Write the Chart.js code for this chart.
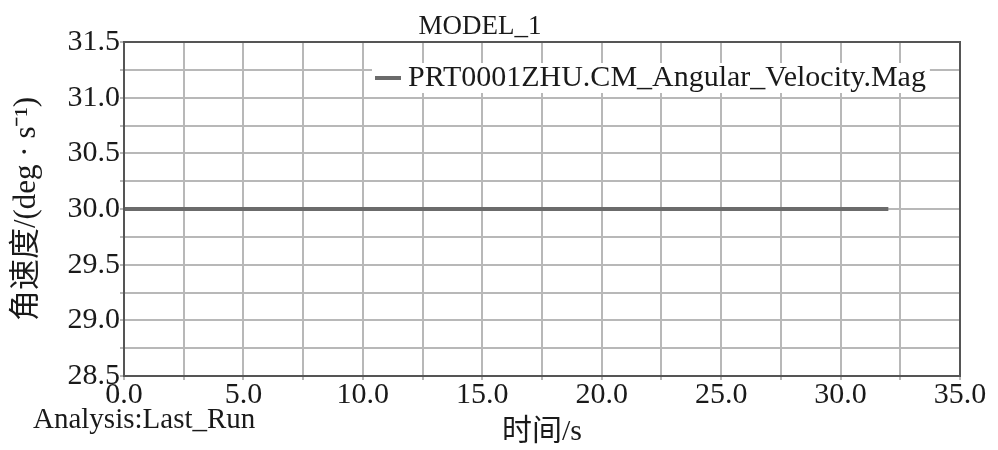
<!DOCTYPE html>
<html lang="zh">
<head>
    <meta charset="UTF-8">
    <title>MODEL_1</title>
    <script src="https://cdn.jsdelivr.net/npm/chart.js"></script>
    <style>
        html, body { margin: 0; padding: 0; background: #fff; }
        #box { width: 998px; height: 450px; }
    </style>
</head>
<body>
<div id="box"><canvas id="graf"></canvas></div>
<script>
    // данные
    const timeValues = [0.0, 32.0];
    const velocityValues = [30.0, 30.0];
    const seriesName = 'PRT0001ZHU.CM_Angular_Velocity.Mag';
    const chartTitle = 'MODEL_1';
    const analysisName = 'Analysis:Last_Run';
    const xTitle = '时间/s';
    const yTitle = '角速度/(deg · s⁻¹)';

    const serif = "'Liberation Serif', 'Noto Sans CJK SC', serif";

    // рамка, легенда и подпись внизу
    const extras = {
        id: 'extras',
        afterDraw(chart) {
            const ctx = chart.ctx;
            const a = chart.chartArea;
            ctx.save();
            ctx.strokeStyle = '#555';
            ctx.lineWidth = 2;
            ctx.strokeRect(a.left, a.top, a.right - a.left, a.bottom - a.top);

            ctx.font = '30px ' + serif;
            ctx.textBaseline = 'middle';
            const tw = ctx.measureText(seriesName).width;
            const tx = 408, ty = 78;
            ctx.fillStyle = '#fff';
            ctx.fillRect(tx - 36, ty - 15, tw + 40, 30);
            ctx.strokeStyle = '#6b6b6b';
            ctx.lineWidth = 4;
            ctx.beginPath();
            ctx.moveTo(375, ty);
            ctx.lineTo(401, ty);
            ctx.stroke();
            ctx.fillStyle = '#1a1a1a';
            ctx.textAlign = 'left';
            ctx.fillText(seriesName, tx, ty);

            ctx.font = '29px ' + serif;
            ctx.fillText(analysisName, 33, 420);
            ctx.restore();
        }
    };

    new Chart(document.getElementById('graf'), {
        type: 'line',
        data: {
            datasets: [{
                label: seriesName,
                data: timeValues.map(function(t, i) { return { x: t, y: velocityValues[i] }; }),
                borderColor: '#6b6b6b',
                borderWidth: 4,
                pointRadius: 0,
                fill: false
            }]
        },
        options: {
            responsive: true,
            maintainAspectRatio: false,
            animation: false,
            layout: { padding: { left: 0, right: 38, top: 0, bottom: 0 } },
            plugins: {
                legend: { display: false },
                tooltip: { enabled: false },
                title: {
                    display: true,
                    text: chartTitle,
                    color: '#1a1a1a',
                    font: { family: serif, size: 27, weight: 'normal', lineHeight: 1 },
                    padding: { top: 13, bottom: 2 }
                }
            },
            scales: {
                x: {
                    type: 'linear',
                    min: 0,
                    max: 35,
                    afterFit: function(s) { s.height = 74; },
                    ticks: {
                        stepSize: 2.5,
                        autoSkip: false,
                        maxRotation: 0,
                        padding: -3,
                        color: '#1a1a1a',
                        font: { family: serif, size: 30 },
                        callback: function(v) { return v % 5 === 0 ? v.toFixed(1) : ''; }
                    },
                    grid: { color: '#b8b8b8', lineWidth: 2, tickLength: 4 },
                    border: { color: '#555', width: 2 },
                    title: {
                        display: true,
                        text: xTitle,
                        color: '#1a1a1a',
                        font: { family: serif, size: 30 },
                        padding: { top: 0, bottom: 0 }
                    }
                },
                y: {
                    min: 28.5,
                    max: 31.5,
                    afterFit: function(s) { s.width = 124; },
                    ticks: {
                        stepSize: 0.25,
                        autoSkip: false,
                        padding: 0,
                        color: '#1a1a1a',
                        font: { family: serif, size: 30 },
                        callback: function(v) { return (v * 2) % 1 === 0 ? v.toFixed(1) : ''; }
                    },
                    grid: { color: '#b8b8b8', lineWidth: 2, tickLength: 4 },
                    border: { color: '#555', width: 2 },
                    title: {
                        display: true,
                        text: yTitle,
                        color: '#1a1a1a',
                        font: { family: serif, size: 31 },
                        padding: { top: 8, bottom: 0 }
                    }
                }
            }
        },
        plugins: [extras]
    });
</script>
</body>
</html>
